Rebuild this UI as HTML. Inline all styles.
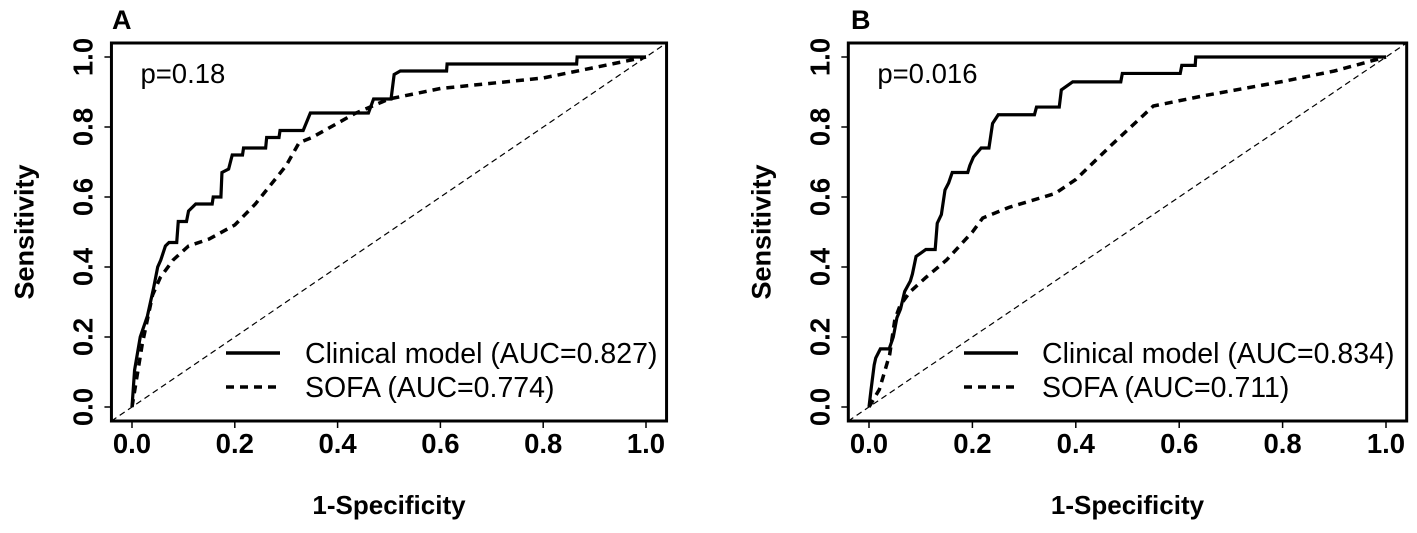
<!DOCTYPE html>
<html><head><meta charset="utf-8"><style>
body{margin:0;background:#fff}
svg{display:block;font-family:"Liberation Sans",sans-serif}
</style></head><body>
<svg id="chart" width="1417" height="533" viewBox="0 0 1417 533" xmlns="http://www.w3.org/2000/svg"></svg>
<script>
const ticks=[0,0.2,0.4,0.6,0.8,1.0];
const tickLabels=["0.0","0.2","0.4","0.6","0.8","1.0"];
const panelLetters=["A","B"];
const pValues=["p=0.18","p=0.016"];
const legendClinical=["Clinical model (AUC=0.827)","Clinical model (AUC=0.834)"];
const legendSofa=["SOFA (AUC=0.774)","SOFA (AUC=0.711)"];
const clinA_x=[0,0.005,0.016,0.03,0.042,0.05,0.056,0.065,0.072,0.087,0.09,0.106,0.11,0.124,0.156,0.158,0.173,0.175,0.188,0.195,0.215,0.217,0.26,0.262,0.286,0.288,0.333,0.347,0.46,0.47,0.504,0.51,0.522,0.612,0.613,0.865,0.866,1];
const clinA_y=[0,0.105,0.2,0.26,0.34,0.40,0.42,0.46,0.47,0.47,0.53,0.53,0.56,0.58,0.58,0.60,0.60,0.67,0.68,0.72,0.72,0.74,0.74,0.77,0.77,0.79,0.79,0.84,0.84,0.88,0.88,0.95,0.96,0.96,0.98,0.98,1,1];
const sofaA_x=[0,0.02,0.04,0.055,0.08,0.11,0.15,0.2,0.24,0.3,0.325,0.35,0.433,0.5,0.6,0.8,1];
const sofaA_y=[0,0.18,0.32,0.37,0.42,0.46,0.48,0.52,0.58,0.69,0.755,0.77,0.838,0.88,0.91,0.94,1];
const clinB_x=[0,0.004,0.01,0.013,0.022,0.039,0.047,0.054,0.061,0.069,0.08,0.084,0.091,0.11,0.128,0.132,0.14,0.147,0.154,0.161,0.191,0.195,0.202,0.217,0.232,0.235,0.239,0.25,0.32,0.324,0.368,0.372,0.394,0.487,0.49,0.602,0.605,0.631,0.632,1];
const clinB_y=[0,0.05,0.12,0.14,0.166,0.166,0.2,0.255,0.28,0.33,0.36,0.38,0.43,0.45,0.45,0.525,0.55,0.62,0.64,0.67,0.67,0.69,0.714,0.74,0.74,0.77,0.81,0.835,0.835,0.857,0.857,0.906,0.929,0.929,0.953,0.953,0.976,0.976,1,1];
const sofaB_x=[0,0.02,0.04,0.05,0.06,0.08,0.11,0.15,0.2,0.22,0.27,0.36,0.4,0.47,0.55,0.65,0.8,0.9,1];
const sofaB_y=[0,0.05,0.15,0.25,0.29,0.33,0.37,0.42,0.5,0.54,0.57,0.61,0.65,0.75,0.86,0.89,0.93,0.96,1];

const NS="http://www.w3.org/2000/svg";
const svg=document.getElementById('chart');
function el(tag,attrs,parent,text){const e=document.createElementNS(NS,tag);for(const k in attrs)e.setAttribute(k,attrs[k]);if(text!==undefined)e.textContent=text;(parent||svg).appendChild(e);return e;}

const panels=[{x0:132,x1:646,lx:226,tx:305,letterX:112,cx:clinA_x,cy:clinA_y,sx:sofaA_x,sy:sofaA_y},
              {x0:869,x1:1386,lx:964,tx:1042,letterX:851,cx:clinB_x,cy:clinB_y,sx:sofaB_x,sy:sofaB_y}];
const Y0=407,Y1=57;
panels.forEach((p,i)=>{
  const X=v=>p.x0+v*(p.x1-p.x0);
  const Y=v=>Y0+v*(Y1-Y0);
  const g=el('g',{});
  
  
  const t=el('text',{x:p.letterX,y:29,'font-size':27,'font-weight':'bold'},g,panelLetters[i]);
  
  
  const diag=el('line',{x1:X(-0.04),y1:Y(-0.04),x2:X(1.04),y2:Y(1.04),stroke:'#000','stroke-width':1.2,'stroke-dasharray':'6,4'},g);
  
  
  const sp=el('polyline',{points:p.sx.map((v,k)=>X(v)+','+Y(p.sy[k])).join(' '),fill:'none',stroke:'#000','stroke-width':3.5,'stroke-dasharray':'8,6'},g);
  
  
  const cp=el('polyline',{points:p.cx.map((v,k)=>X(v)+','+Y(p.cy[k])).join(' '),fill:'none',stroke:'#000','stroke-width':3.2,'stroke-linejoin':'miter'},g);
  
  
  const box=el('rect',{x:X(-0.04),y:Y(1.04),width:X(1.04)-X(-0.04),height:Y(-0.04)-Y(1.04),fill:'none',stroke:'#000','stroke-width':3},g);
  
  
  ticks.forEach((v,k)=>{
    el('line',{x1:X(v),x2:X(v),y1:Y(-0.04),y2:Y(-0.04)+7,stroke:'#000','stroke-width':1.5},g);
    const xl=el('text',{x:X(v),y:453,'font-size':27.5,'font-weight':'bold','text-anchor':'middle'},g,tickLabels[k]);
    
    
    el('line',{x1:X(-0.04)-7,x2:X(-0.04),y1:Y(v),y2:Y(v),stroke:'#000','stroke-width':1.5},g);
    const yl=el('text',{x:0,y:0,'font-size':27.5,'font-weight':'bold','text-anchor':'middle',transform:`translate(${X(-0.04)-19},${Y(v)}) rotate(-90)`},g,tickLabels[k]);
    
    
  });
  const xt=el('text',{x:(p.x0+p.x1)/2,y:514,'font-size':26,'font-weight':'bold','text-anchor':'middle'},g,'1-Specificity');
  
  
  const yt=el('text',{x:0,y:0,'font-size':27,'font-weight':'bold','text-anchor':'middle',transform:`translate(${X(-0.04)-78},${(Y0+Y1)/2}) rotate(-90)`},g,'Sensitivity');
  
  
  const pv=el('text',{x:X(-0.04)+29,y:83,'font-size':27.5},g,pValues[i]);
  
  
  const l1=el('line',{x1:p.lx,x2:p.lx+54,y1:353,y2:353,stroke:'#000','stroke-width':3.5},g);
  
  
  const t1=el('text',{x:p.tx,y:363,'font-size':28.5},g,legendClinical[i]);
  
  
  const l2=el('line',{x1:p.lx,x2:p.lx+54,y1:387,y2:387,stroke:'#000','stroke-width':3.5,'stroke-dasharray':'8,6'},g);
  
  
  const t2=el('text',{x:p.tx,y:397,'font-size':28.5},g,legendSofa[i]);
  
  
});
</script>
</body></html>
